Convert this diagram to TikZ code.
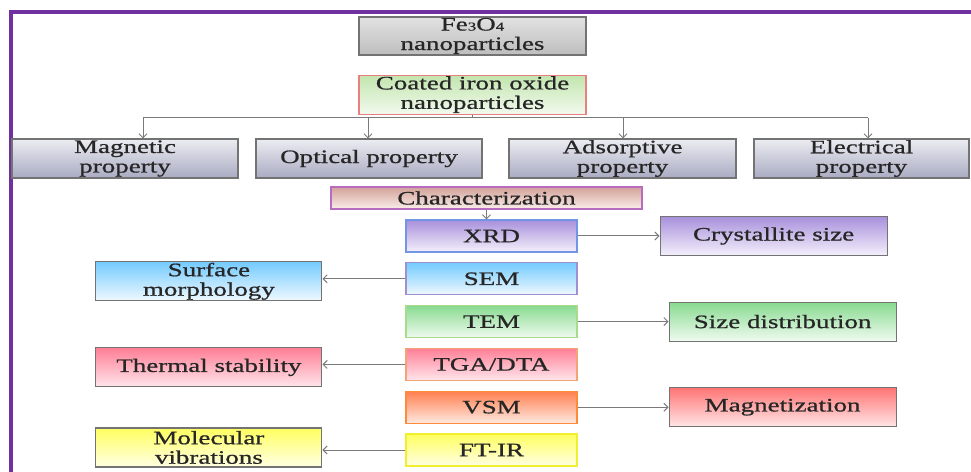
\documentclass[tikz,border=0pt]{standalone}
\usepackage{fontspec}
\setmainfont{Liberation Serif}[FakeStretch=1.42,FakeBold=0.8]
\usetikzlibrary{arrows.meta, positioning}
\definecolor{framepurple}{HTML}{7030A0}
\definecolor{edgegray}{HTML}{737373}
\definecolor{linkgray}{HTML}{7A7A7A}
\definecolor{feTop}{HTML}{E2E2E2}   \definecolor{feBot}{HTML}{BDBDBD}
\definecolor{propTop}{HTML}{ECECF2} \definecolor{propBot}{HTML}{A9ABC2}
\definecolor{coatTop}{HTML}{C2E5AE} \definecolor{coatBot}{HTML}{F2FAEE} \definecolor{coatLine}{HTML}{E88080}
\definecolor{charTop}{HTML}{D2A198} \definecolor{charBot}{HTML}{FAEEEA} \definecolor{charLine}{HTML}{B86CC0}
\definecolor{xrdTop}{HTML}{A890DC}  \definecolor{xrdBot}{HTML}{F4F0FB}  \definecolor{xrdLine}{HTML}{7296E4}
\definecolor{semTop}{HTML}{74CBFF}  \definecolor{semBot}{HTML}{F0F9FF}  \definecolor{semLine}{HTML}{A090D0}
\definecolor{temTop}{HTML}{88DA90}  \definecolor{temBot}{HTML}{F0FBF0}  \definecolor{temLine}{HTML}{A8DC8C}
\definecolor{tgaTop}{HTML}{FF7F96}  \definecolor{tgaBot}{HTML}{FFE6EC}  \definecolor{tgaLine}{HTML}{F2A474}
\definecolor{vsmTop}{HTML}{FF8050}  \definecolor{vsmBot}{HTML}{FFE8E0}  \definecolor{vsmLine}{HTML}{FF8A3A}
\definecolor{irTop}{HTML}{FFFF60}   \definecolor{irBot}{HTML}{FFFFE4}   \definecolor{irLine}{HTML}{F2EE30}
\definecolor{mgnTop}{HTML}{FF7474}  \definecolor{mgnBot}{HTML}{FFE6E6}

\begin{document}
\begin{tikzpicture}[x=1pt, y=1pt,
        every node/.style={font=\fontsize{19}{19.5}\selectfont, text=black!85},
        box/.style={draw=#1, line width=1.1pt, inner sep=0pt, align=center,
                    minimum width=226pt, minimum height=39pt},
        box/.default=edgegray,
        tech/.style={box=#1, minimum width=171pt, minimum height=32pt},
        shade/.style={top color=#1Top, bottom color=#1Bot},
        link/.style={draw=linkgray, line width=1pt},
        arr/.style={link, -{Straight Barb[length=4pt, width=8pt]}}
    ]
        \useasboundingbox (0,0) rectangle (971,471);
        \draw[framepurple, line width=4pt] (11,-10) -- (11,459) -- (990,459);

        % top of the tree
        \node[box, shade=fe, minimum width=227pt, minimum height=38pt] (fe)
            at (472.5,435) {Fe{\fontsize{12}{12}\selectfont 3}O{\fontsize{12}{12}\selectfont 4}\\nanoparticles};
        \node[box=coatLine, shade=coat, minimum width=227pt] (coat)
            [below=19pt of fe] {Coated iron oxide\\nanoparticles};

        % properties
        \node[box, shade=prop] (magp) at (125,312.5) {Magnetic\\property};
        \node[box, shade=prop] (optp) at (369,312.5) {Optical property};
        \node[box, shade=prop, minimum width=227pt] (adsp) at (622.5,312.5) {Adsorptive\\property};
        \node[box, shade=prop, minimum width=215pt] (elep) at (861.5,312.5) {Electrical\\property};

        \coordinate (busl) at (143,353);
        \coordinate (busr) at (868,353);
        \draw[link] (coat.south) -- (coat.south |- busl);
        \draw[link] (busl) -- (busr);
        \foreach \n/\dx in {magp/18, optp/-1, adsp/0.5, elep/6.5}
            \draw[arr] ([xshift=\dx pt]\n.north |- busl) -- ([xshift=\dx pt]\n.north);

        % characterization techniques
        \node[box=charLine, shade=char, minimum width=311pt, minimum height=22pt] (charz)
            at (486.5,273) {Characterization};
        \node[tech=xrdLine, shade=xrd] (xrd) at (491.5,235) {XRD};
        \node[tech=semLine, shade=sem] (sem) [below=9.7pt of xrd] {SEM};
        \node[tech=temLine, shade=tem] (tem) [below=9.7pt of sem] {TEM};
        \node[tech=tgaLine, shade=tga] (tga) [below=9.7pt of tem] {TGA/DTA};
        \node[tech=vsmLine, shade=vsm] (vsm) [below=9.7pt of tga] {VSM};
        \node[tech=irLine, shade=ir] (ftir) [below=9.7pt of vsm] {FT-IR};

        \draw[arr] (charz.south) -- (charz.south |- xrd.north);

        % results
        \node[box, shade=xrd, minimum width=227pt] (cryst) [right=82pt of xrd] {Crystallite size};
        \node[box, shade=tem, minimum width=227pt] (sized) [right=91pt of tem] {Size distribution};
        \node[box, shade=mgn, minimum width=227pt] (magn) [right=91pt of vsm] {Magnetization};
        \node[box, shade=sem] (surf) [left=83pt of sem, yshift=-2.5pt] {Surface\\morphology};
        \node[box, shade=tga] (therm) [left=83pt of tga, yshift=-3pt] {Thermal stability};
        \node[box, shade=ir] (molv) [left=83pt of ftir, yshift=2.5pt] {Molecular\\vibrations};

        \draw[arr] (xrd.east) -- (cryst.west |- xrd.east);
        \draw[arr] (tem.east) -- (sized.west |- tem.east);
        \draw[arr] (vsm.east) -- (magn.west |- vsm.east);
        \draw[arr] (sem.west) -- (surf.east |- sem.west);
        \draw[arr] (tga.west) -- (therm.east |- tga.west);
        \draw[arr] (ftir.west) -- (molv.east |- ftir.west);
    \end{tikzpicture}
\end{document}
